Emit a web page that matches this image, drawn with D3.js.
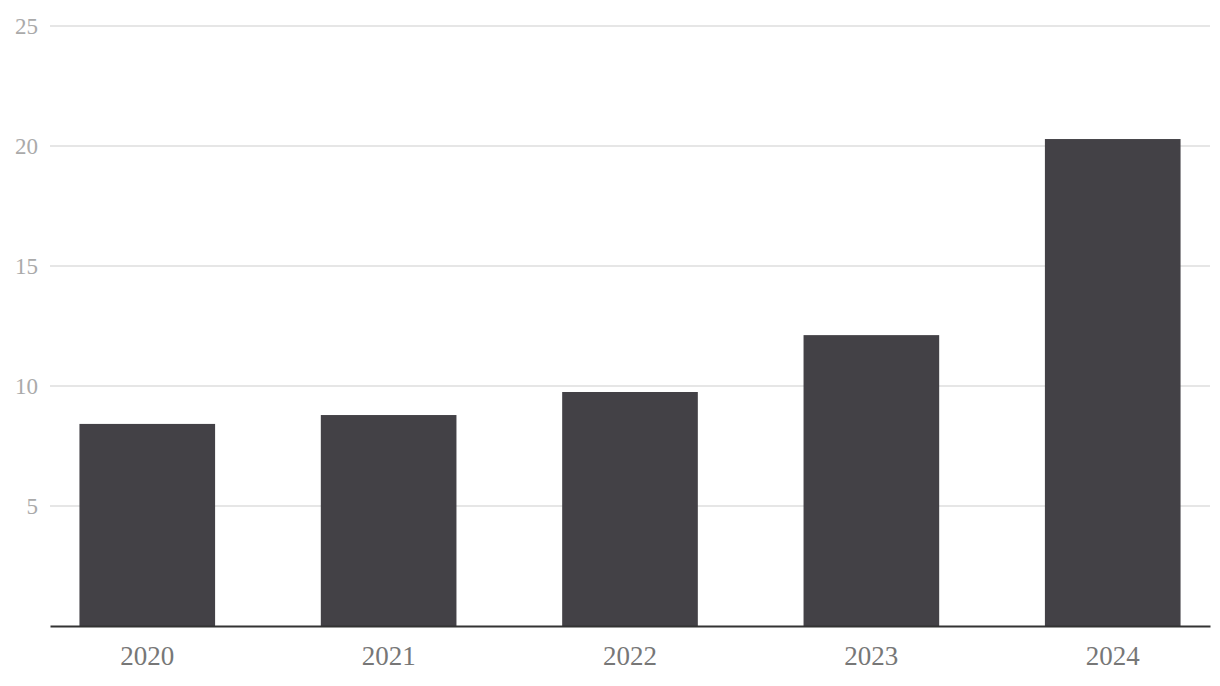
<!DOCTYPE html>
<html><head><meta charset="utf-8">
<script src="https://cdn.jsdelivr.net/npm/d3@7"></script>
<style>body{margin:0;background:#fff}svg{display:block}</style>
</head><body>
<svg id="c" width="1220" height="686"></svg>
<script>
const categories = ["2020","2021","2022","2023","2024"];
const values = [8.42, 8.79, 9.75, 12.12, 20.29];
const yTicks = [5,10,15,20,25];

const svg = d3.select("#c");
const x = d3.scaleBand().domain(categories).range([50,1210]).paddingInner(0.438).paddingOuter(0.122);
const y = d3.scaleLinear().domain([0,25]).range([626,26]);

const font = "'Liberation Serif', 'Times New Roman', serif";

svg.append("g").selectAll("line").data(yTicks).join("line")
  .attr("x1",50).attr("x2",1210)
  .attr("y1",d=>y(d)).attr("y2",d=>y(d))
  .attr("stroke","#e6e6e6").attr("stroke-width",2);

svg.append("g").selectAll("text").data(yTicks).join("text")
  .attr("x",38).attr("y",d=>y(d)).attr("dy","0.35em")
  .attr("text-anchor","end")
  .attr("font-family",font).attr("font-size",23)
  .attr("fill","#aaaaaa").text(d=>d);

svg.append("g").selectAll("rect").data(values).join("rect")
  .attr("x",(d,i)=>x(categories[i]))
  .attr("width",x.bandwidth())
  .attr("y",d=>y(d))
  .attr("height",d=>y(0)-y(d))
  .attr("fill","#434146");

const xa = svg.append("g").attr("transform",`translate(0,${y(0)})`)
  .call(d3.axisBottom(x).tickSize(0).tickPadding(20));
xa.select(".domain").attr("stroke","#333").attr("stroke-width",2);
xa.selectAll("text").attr("font-family",font).attr("font-size",27).attr("fill","#777");
</script>
</body></html>
